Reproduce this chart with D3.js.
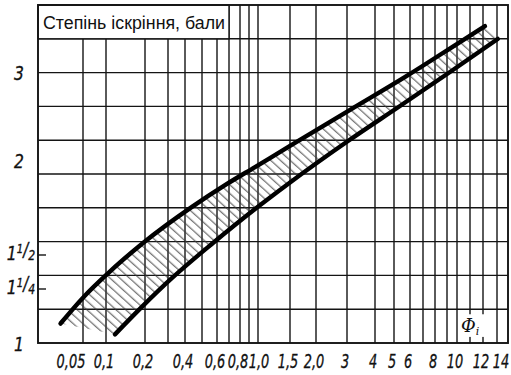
<!DOCTYPE html>
<html>
<head>
<meta charset="utf-8">
<script src="https://cdn.jsdelivr.net/npm/d3@7"></script>
<style>
  html, body { margin: 0; padding: 0; background: #fff; }
  svg { display: block; }
</style>
</head>
<body>
<script>
// ---------------- data ----------------
const xGridValues = [0.05,0.1,0.2,0.3,0.4,0.5,0.6,0.7,0.8,0.9,1,1.5,2,3,4,5,6,7,8,9,10,11,12,13];
const xTickValues = [0.05,0.1,0.2,0.4,0.6,0.8,1,1.5,2,3,4,5,6,8,10,12,14];
const xTickLabels = ["0,05","0,1","0,2","0,4","0,6","0,8","1,0","1,5","2,0","3","4","5","6","8","10","12","14"];
const yTickValues = [1, 1.25, 1.5, 2, 3];
const yTickLabels = [["1"], ["1","1","4"], ["1","1","2"], ["2"], ["3"]];
const yMinorTicks = [1.25, 1.5];
const upperPhi    = [0, 0.05, 0.103, 0.195, 0.441, 0.683, 0.967, 1.5, 3.11, 5.75, 10.23, 12.14];
const upperDegree = [1.09, 1.21, 1.36, 1.563, 1.753, 1.874, 1.963, 2.16, 2.57, 2.95, 3.34, 3.52];
const lowerPhi    = [0.123, 0.192, 0.324, 0.573, 0.967, 1.469, 3.036, 5.375, 9.3, 13.07];
const lowerDegree = [1.04, 1.167, 1.331, 1.563, 1.742, 1.874, 2.216, 2.614, 3.0, 3.375];
const titleText = "Степінь іскріння, бали";
const xAxisName = "Φ";
const xAxisSub = "i";

// ---------------- layout ----------------
const W = 511, H = 375;
const svg = d3.select("body").append("svg").attr("width", W).attr("height", H);

// empirical (hand-drawn) axis scales of the original nomogram
const x = d3.scaleLinear()
  .domain([-0.05, 0.05, 0.1, 0.2, 0.3, 0.4, 0.5, 0.6, 0.7, 0.8, 0.9, 1, 1.5, 2, 3, 4, 5, 6, 7, 8, 9, 10, 11, 12, 13, 14])
  .range([38, 83, 106, 145, 168, 185, 202, 217, 229, 240, 249, 258, 290, 316, 347, 375, 394, 410, 423, 435, 447, 457, 470, 483, 497, 508]);
const y = d3.scaleLinear()
  .domain([1, 1.25, 1.5, 2, 3, 3.76])
  .range([343, 289, 255, 160, 72, 5]);
const gridY = d3.scaleLinear().domain([0, 10]).range([343, 5]);

const pLeft = x.range()[0], pRight = x.range()[x.range().length - 1];
const pTop = gridY(10), pBottom = gridY(0);
const ink = "#141414";

// hatch pattern
const defs = svg.append("defs");
const pat = defs.append("pattern")
  .attr("id", "hatch").attr("patternUnits", "userSpaceOnUse")
  .attr("width", 6.5).attr("height", 6.5)
  .attr("patternTransform", "rotate(42)");
pat.append("line").attr("x1", 0).attr("x2", 6.5).attr("y1", 3).attr("y2", 3)
  .attr("stroke", "#3a3a3a").attr("stroke-width", 0.9);

// horizontal grid
const g = svg.append("g");
g.selectAll("line.h").data(d3.range(1, 10)).join("line")
  .attr("x1", pLeft).attr("x2", pRight)
  .attr("y1", d => gridY(d)).attr("y2", d => gridY(d))
  .attr("stroke", ink).attr("stroke-width", 1.4);

// vertical grid
g.selectAll("line.v").data(xGridValues).join("line")
  .attr("x1", d => x(d)).attr("x2", d => x(d))
  .attr("y1", pTop).attr("y2", pBottom)
  .attr("stroke", ink).attr("stroke-width", 1.4);

// title box
svg.append("rect")
  .attr("x", pLeft).attr("y", pTop)
  .attr("width", x(0.7) - pLeft).attr("height", gridY(9) - pTop)
  .attr("fill", "#fff").attr("stroke", ink).attr("stroke-width", 1.4);
svg.append("text")
  .attr("x", pLeft + 5).attr("y", pTop + 24)
  .attr("font-family", "Liberation Sans, Arial, sans-serif")
  .attr("font-size", 17.5).attr("fill", "#111")
  .attr("textLength", x(0.7) - pLeft - 9).attr("lengthAdjust", "spacingAndGlyphs")
  .text(titleText);

// axis-name box
svg.append("rect")
  .attr("x", x(10.3)).attr("y", gridY(0.85))
  .attr("width", x(12.5) - x(10.3)).attr("height", gridY(0.18) - gridY(0.85))
  .attr("fill", "#fff");
const phi = svg.append("text")
  .attr("x", x(10.3)).attr("y", gridY(0.33))
  .attr("font-family", "DejaVu Serif, serif").attr("font-style", "italic")
  .attr("font-size", 18).attr("fill", "#111");
phi.append("tspan").text(xAxisName);
phi.append("tspan").attr("font-size", 11).attr("dy", 3).text(xAxisSub);

// band (hatched)
const upperPts = upperPhi.map((v, i) => [x(v), y(upperDegree[i])]);
const lowerPts = lowerPhi.map((v, i) => [x(v), y(lowerDegree[i])]);
const line = d3.line().curve(d3.curveMonotoneX);
const upperPath = line(upperPts);
const lowerRevPath = d3.line().curve(d3.curveMonotoneX)(lowerPts.slice().reverse());
svg.append("path")
  .attr("d", upperPath + "L" + lowerRevPath.slice(1) + "Z")
  .attr("fill", "url(#hatch)").attr("stroke", "none");

// curves
[upperPts, lowerPts].forEach(pts => {
  svg.append("path").attr("d", line(pts))
    .attr("fill", "none").attr("stroke", "#000")
    .attr("stroke-width", 4.4).attr("stroke-linecap", "round");
});

// frame
svg.append("rect")
  .attr("x", pLeft).attr("y", pTop)
  .attr("width", pRight - pLeft).attr("height", pBottom - pTop)
  .attr("fill", "none").attr("stroke", ink).attr("stroke-width", 1.9);

// minor y ticks
svg.selectAll("line.yt").data(yMinorTicks).join("line")
  .attr("x1", pLeft).attr("x2", pLeft + 8)
  .attr("y1", d => y(d)).attr("y2", d => y(d))
  .attr("stroke", ink).attr("stroke-width", 1.4);

// x tick labels
const labFont = "DejaVu Sans, sans-serif";
const nX = xTickValues.length;
svg.selectAll("text.xl").data(xTickValues).join("text")
  .attr("transform", (d, i) => {
    let cx = x(d) - 2;
    if (i === 0) cx = x(d) - 12;
    if (i === nX - 1) cx = x(d) - 7;
    if (d === 1) cx = x(d) + 1;
    return `translate(${cx},368) scale(0.68,1)`;
  })
  .attr("text-anchor", "middle")
  .attr("font-family", labFont).attr("font-style", "italic")
  .attr("font-size", 19).attr("fill", "#111")
  .attr("stroke", "#111").attr("stroke-width", 0.35)
  .text((d, i) => xTickLabels[i]);

// y tick labels
yTickValues.forEach((v, i) => {
  const parts = yTickLabels[i];
  const frac = parts.length > 1;
  const t = svg.append("text")
    .attr("transform", `translate(${frac ? 21 : 19},${y(v) + (frac ? 5 : 8)}) scale(0.78,1)`)
    .attr("text-anchor", "middle")
    .attr("font-family", labFont).attr("font-style", "italic")
    .attr("font-size", 20).attr("fill", "#111")
    .attr("stroke", "#111").attr("stroke-width", 0.35);
  t.append("tspan").text(parts[0]);
  if (frac) {
    t.append("tspan").attr("font-size", 13).attr("dy", -7).text(parts[1]);
    t.append("tspan").attr("font-size", 19).attr("dy", 3).text("/");
    t.append("tspan").attr("font-size", 14).attr("dy", 4).text(parts[2]);
  }
});
</script>
</body>
</html>
